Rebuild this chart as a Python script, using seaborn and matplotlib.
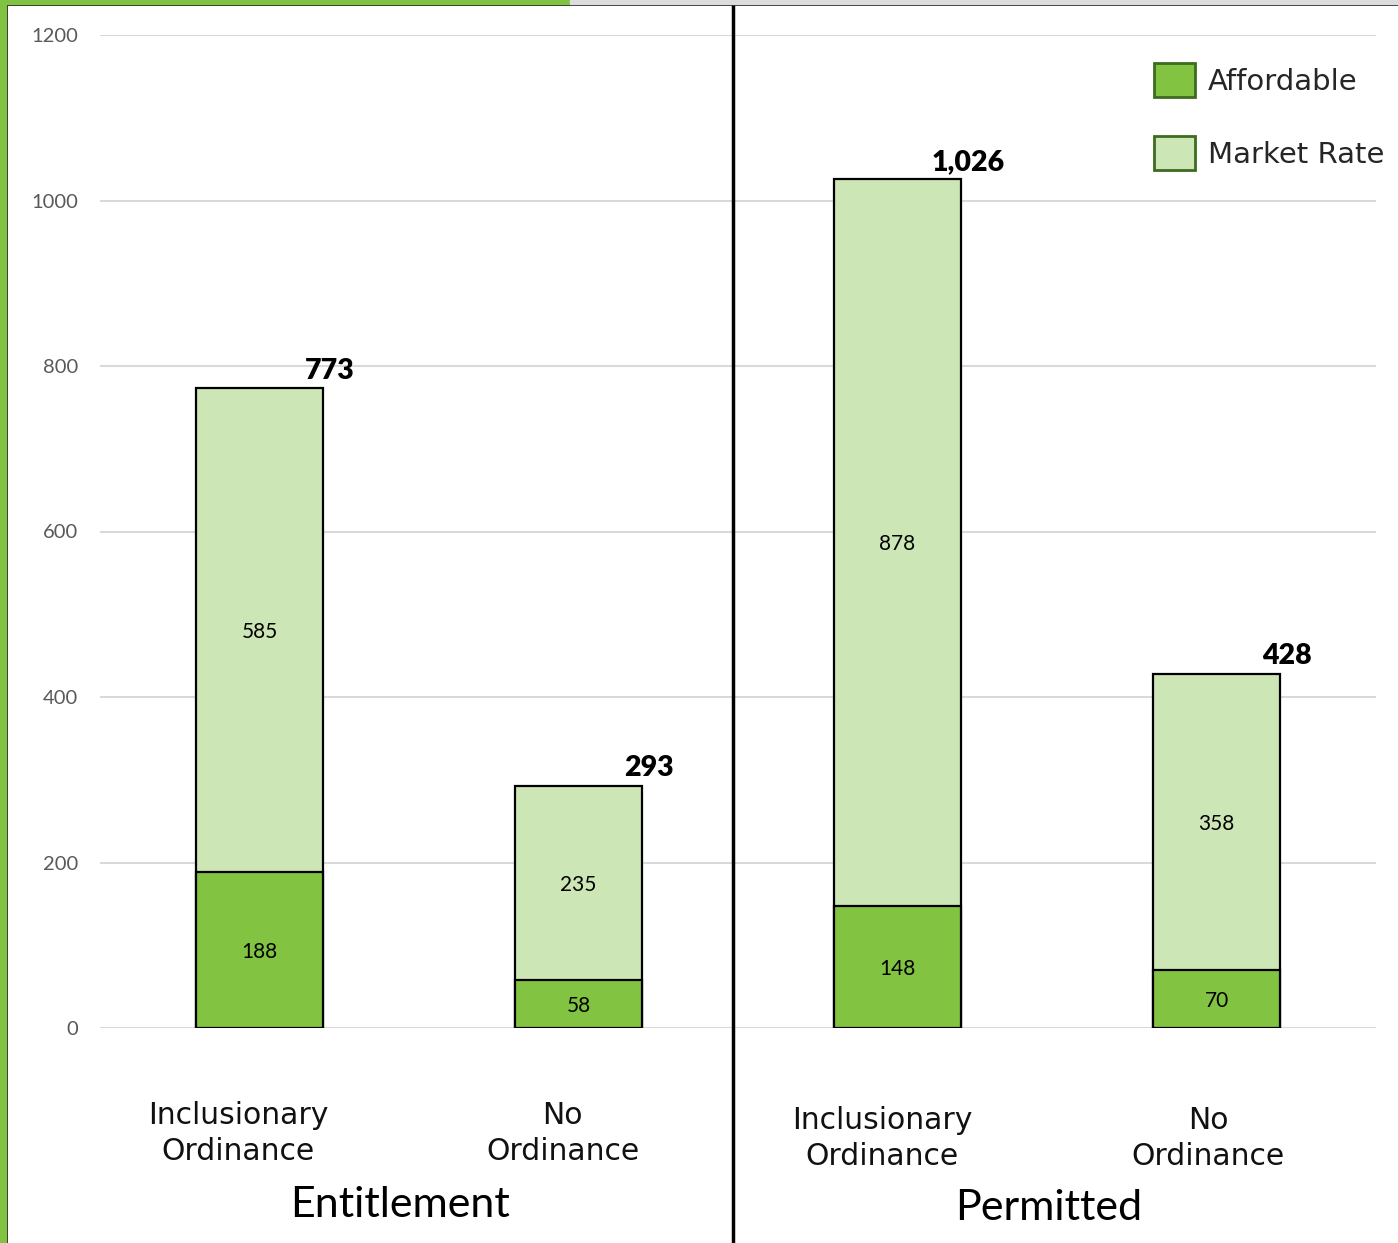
import matplotlib
matplotlib.use('Agg')
import matplotlib.pyplot as plt
import matplotlib.patches as mpatches
from matplotlib.lines import Line2D
import pandas as pd
import seaborn as sns

# chart data
stages = ['Entitlement', 'Entitlement', 'Permitted', 'Permitted']
ordinance = ['Inclusionary\nOrdinance', 'No\nOrdinance', 'Inclusionary\nOrdinance', 'No\nOrdinance']
affordable = [188, 58, 148, 70]
market_rate = [585, 235, 878, 358]
total_labels = ['773', '293', '1,026', '428']
yticks = [0, 200, 400, 600, 800, 1000, 1200]

df = pd.DataFrame({'stage': stages, 'ordinance': ordinance,
                   'affordable': affordable, 'market': market_rate})
df['total'] = df['affordable'] + df['market']
df['key'] = df['stage'] + ' ' + df['ordinance']

dark = '#82c341'
light = '#cde6b5'

sns.set_theme(style='white')
plt.rcParams['font.family'] = ['Lato', 'DejaVu Sans']

fig = plt.figure(figsize=(13.98, 12.43), dpi=100)
ax = fig.add_axes([100 / 1398, 1 - 1028 / 1243, 1276 / 1398, 993 / 1243])

# stacked bars: total (market rate on top) then affordable over it
sns.barplot(data=df, x='key', y='total', color=light, saturation=1, width=0.4,
            edgecolor='black', linewidth=1.6, ax=ax, zorder=2)
sns.barplot(data=df, x='key', y='affordable', color=dark, saturation=1, width=0.4,
            edgecolor='black', linewidth=1.6, ax=ax, zorder=3)

ax.set_xlim(-0.5, 3.5)
ax.set_ylim(0, 1200)
ax.set_yticks(yticks)
ax.set_yticklabels([str(t) for t in yticks], color='#595959', fontsize=14.5)
ax.tick_params(axis='y', length=0, pad=16)
ax.set_xticks([])
ax.set_xlabel('')
ax.set_ylabel('')
ax.grid(axis='y', color='#d9d9d9', linewidth=1.5, zorder=0)
ax.set_axisbelow(True)
for s in ax.spines.values():
    s.set_visible(False)

# segment labels
for i, row in df.iterrows():
    ax.text(i, row['affordable'] / 2, str(row['affordable']), ha='center', va='center_baseline',
            fontsize=15, color='black', zorder=5)
    ax.text(i, row['affordable'] + row['market'] / 2, str(row['market']), ha='center',
            va='center_baseline', fontsize=15, color='black', zorder=5)
    ax.text(i + 0.22, row['total'] + 24, total_labels[i], ha='center', va='center_baseline',
            fontsize=20.5, fontweight='heavy', color='black', zorder=5)

# category labels
cat_dx = [-0.067, -0.049, -0.049, -0.027]
cat_dy = [-0.106, -0.106, -0.111, -0.111]
for i, lab in enumerate(ordinance):
    ax.text(i + cat_dx[i], cat_dy[i], lab, transform=ax.get_xaxis_transform(),
            ha='center', va='center', fontsize=21.5, family='DejaVu Sans',
            linespacing=1.32, color='#111111')

ax.text(0.44, -0.178, 'Entitlement', transform=ax.get_xaxis_transform(),
        ha='center', va='center', fontsize=31, color='black')
ax.text(2.475, -0.181, 'Permitted', transform=ax.get_xaxis_transform(),
        ha='center', va='center', fontsize=31, color='black')

# legend
handles = [mpatches.Patch(facecolor=dark, edgecolor='#3d6b1f', linewidth=2, label='Affordable'),
           mpatches.Patch(facecolor=light, edgecolor='#3d6b1f', linewidth=2, label='Market Rate')]
leg = fig.legend(handles=handles, loc='upper left', bbox_to_anchor=(1154 / 1398, 1 - 63 / 1243),
                 frameon=False, borderpad=0, borderaxespad=0,
                 prop={'family': 'DejaVu Sans', 'size': 21},
                 handlelength=1.41, handleheight=1.41, handletextpad=0.45, labelspacing=1.35)

# divider and screenshot borders
fig.add_artist(Line2D([733 / 1398, 733 / 1398], [0, 1 - 5 / 1243], color='black', linewidth=2.5))
fig.add_artist(mpatches.Rectangle((0, 0), 6 / 1398, 1, transform=fig.transFigure,
                                  color='#80c242', zorder=10))
fig.add_artist(mpatches.Rectangle((0, 1 - 4 / 1243), 570 / 1398, 4 / 1243,
                                  transform=fig.transFigure, color='#80c242', zorder=10))
fig.add_artist(mpatches.Rectangle((570 / 1398, 1 - 4 / 1243), 1, 4 / 1243,
                                  transform=fig.transFigure, color='#dcdcdc', zorder=10))
fig.add_artist(Line2D([6.5 / 1398, 6.5 / 1398], [0, 1 - 4 / 1243], color='black', linewidth=1.2))
fig.add_artist(Line2D([6 / 1398, 1], [1 - 5 / 1243, 1 - 5 / 1243], color='black', linewidth=1.2))

fig.savefig('out.png', dpi=100)
